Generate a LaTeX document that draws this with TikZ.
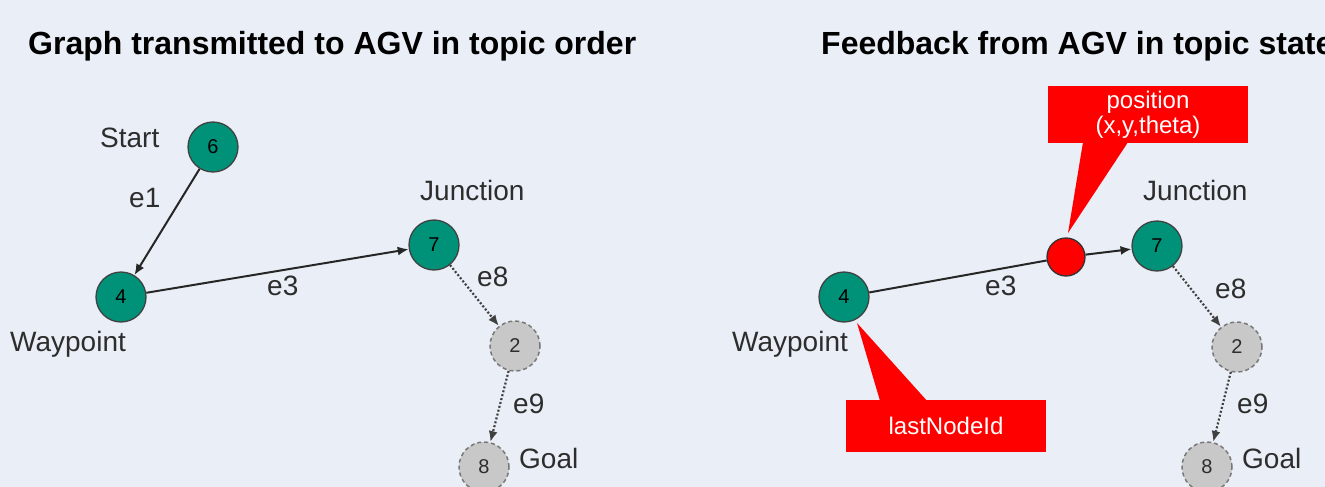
\documentclass[tikz,border=0pt]{standalone}
\usepackage{fontspec}
\setmainfont{Liberation Sans}
\usetikzlibrary{arrows.meta,calc}
\definecolor{bgc}{RGB}{234,239,247}
\definecolor{tealc}{RGB}{0,146,121}
\definecolor{ghostc}{RGB}{200,200,200}
\definecolor{ghostline}{RGB}{120,120,120}
\definecolor{labelc}{RGB}{45,45,45}
\tikzset{
  tnode/.style={circle, draw=black!75, line width=1.3pt, fill=tealc, minimum size=50pt, inner sep=0pt, font=\fontsize{20}{20}\selectfont},
  gnode/.style={circle, draw=ghostline, dash pattern=on 4pt off 3pt, line width=1.5pt, fill=ghostc, minimum size=50pt, inner sep=0pt, text=labelc, font=\fontsize{20}{20}\selectfont},
  posnode/.style={circle, draw=black!80, line width=1.3pt, fill=red, minimum size=38pt, inner sep=0pt},
  lbl/.style={anchor=base west, inner sep=0pt, text=labelc, font=\fontsize{28}{28}\selectfont},
  ttl/.style={anchor=base west, inner sep=0pt, text=black, font=\fontsize{32}{32}\selectfont\bfseries},
  arr/.style={line width=2pt, black!85, -{Latex[length=11pt,width=9pt]}},
  plainline/.style={line width=2pt, black!85},
  dotarr/.style={line width=2.2pt, black!75, dash pattern=on 2pt off 2pt, -{Latex[length=11pt,width=9pt]}},
  callbox/.style={rectangle, fill=red, text=white, inner sep=0pt, align=center, font=\fontsize{24}{25}\selectfont},
}
\begin{document}
\begin{tikzpicture}[x=1pt,y=-1pt]
\fill[bgc] (0,0) rectangle (1325,487);
\useasboundingbox (0,0) rectangle (1325,487);

% ---------- left panel ----------
\node[ttl] (t1) at (28,55) {Graph transmitted to AGV in topic order};

\node[tnode] (L6) at (213,147) {6};
\node[tnode] (L4) at (121,297) {4};
\node[tnode] (L7) at (434,245) {7};
\node[gnode] (L2) at (515,346) {2};
\node[gnode] (L8) at (484,467) {8};

\draw[arr] (L6) -- (L4);
\draw[arr] (L4) -- (L7);
\draw[dotarr] (L7) -- (L2);
\draw[dotarr] (L2) -- (L8);

\node[lbl] (lstart) at (100,147) {Start};
\node[lbl] (le1) at (129,207) {e1};
\node[lbl] (lway) at (10,351) {Waypoint};
\node[lbl] (le3) at (267,295) {e3};
\node[lbl] (ljun) at (420,200) {Junction};
\node[lbl] (le8) at (477,286) {e8};
\node[lbl] (le9) at (513,413) {e9};
\node[lbl] (lgoal) at (519,468) {Goal};

% ---------- right panel ----------
\node[ttl] (t2) at (821,55) {Feedback from AGV in topic state};

\node[tnode] (R4) at (844,297) {4};
\node[posnode] (Rpos) at (1066,257) {};
\node[tnode] (R7) at (1157,246) {7};
\node[gnode] (R2) at (1237,347) {2};
\node[gnode] (R8) at (1207,467) {8};

\draw[plainline] (R4) -- (Rpos);
\draw[arr] (Rpos) -- (R7);
\draw[dotarr] (R7) -- (R2);
\draw[dotarr] (R2) -- (R8);

\node[lbl] (rway) at (732,351) {Waypoint};
\node[lbl] (re3) at (985,295) {e3};
\node[lbl] (rjun) at (1143,200) {Junction};
\node[lbl] (re8) at (1215,298) {e8};
\node[lbl] (re9) at (1237,413) {e9};
\node[lbl] (rgoal) at (1242,468) {Goal};

% callouts
\node[callbox, minimum width=200pt, minimum height=57pt] (cpos) at (1148,114.5) {position\\(x,y,theta)};
\fill[red] ([xshift=-65pt,yshift=1pt]cpos.south) -- ([xshift=-20pt,yshift=1pt]cpos.south) -- ($(Rpos.center)+(2,-24)$) -- cycle;

\node[callbox, minimum width=200pt, minimum height=52pt] (clast) at (946,426) {lastNodeId};
\fill[red] ([xshift=-66pt,yshift=-1pt]clast.north) -- ([xshift=-19pt,yshift=-1pt]clast.north) -- ($(R4.center)+(13,26)$) -- cycle;
\end{tikzpicture}
\end{document}
